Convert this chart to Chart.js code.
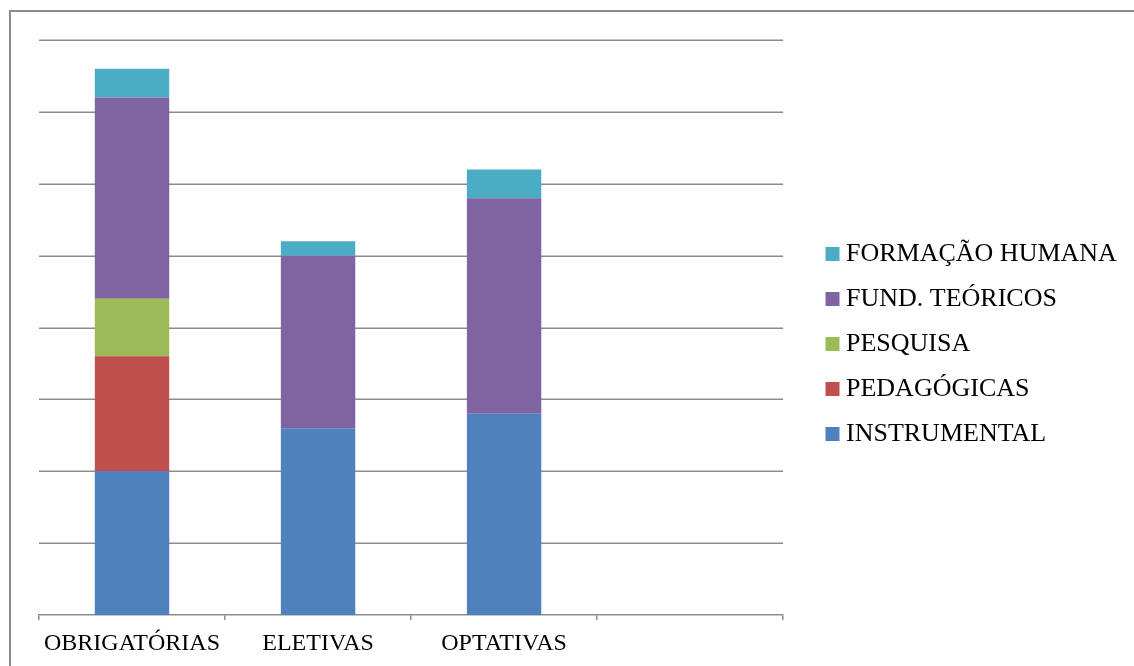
<!DOCTYPE html>
<html>
<head>
<meta charset="utf-8">
<script src="https://cdn.jsdelivr.net/npm/chart.js@4"></script>
<style>
  html, body { margin: 0; padding: 0; background: #fff; overflow: hidden; }
  #frame { position: absolute; left: 9px; top: 10px; width: 2000px; height: 2000px; border: 2px solid #8c8c8c; box-sizing: border-box; }
  #wrap { position: absolute; left: 0; top: 0; width: 1134px; height: 666px; }
</style>
</head>
<body>
<div id="frame"></div>
<div id="wrap"><canvas id="chart" width="1134" height="666"></canvas></div>
<script>
"use strict";
// categorias (a quarta fica vazia, como no original)
const categorias = ["OBRIGATÓRIAS", "ELETIVAS", "OPTATIVAS", ""];
const instrumental = [10, 13, 14, null];
const pedagogicas = [8, 0, 0, null];
const pesquisa = [4, 0, 0, null];
const fundTeoricos = [14, 12, 15, null];
const formacaoHumana = [2, 1, 2, null];
const yTicks = [0, 5, 10, 15, 20, 25, 30, 35, 40];

const FONTE = "'Liberation Serif', 'Times New Roman', serif";
const CINZA = "#8c8c8c";

function serie(label, data, cor) {
    return { label, data, backgroundColor: cor, borderColor: cor, borderWidth: 0, pointStyle: "rect" };
}

// linhas de grade horizontais (o eixo y fica oculto para a legenda caber)
const gradeY = {
    id: "gradeY",
    beforeDatasetsDraw(chart) {
        const { ctx, chartArea, scales } = chart;
        ctx.save();
        ctx.strokeStyle = CINZA;
        ctx.lineWidth = 1.5;
        yTicks.forEach(v => {
            if (v === 0) return;
            const y = Math.round(scales.y.getPixelForValue(v)) + 0.25;
            ctx.beginPath();
            ctx.moveTo(chartArea.left, y);
            ctx.lineTo(chartArea.right, y);
            ctx.stroke();
        });
        ctx.restore();
    },
};

// posiciona a legenda como no original
const legendaDesloc = {
    id: "legendaDesloc",
    afterLayout(chart) {
        const lg = chart.legend;
        if (!lg) return;
        const w = lg.right - lg.left;
        lg.left = 813;
        lg.right = 813 + w;
        lg.top = 35;
        lg.bottom = 653;
    },
};

const ctx = document.getElementById("chart").getContext("2d");
new Chart(ctx, {
    type: "bar",
    data: {
        labels: categorias,
        datasets: [
            serie("INSTRUMENTAL", instrumental, "#4F81BD"),
            serie("PEDAGÓGICAS", pedagogicas, "#C0504D"),
            serie("PESQUISA", pesquisa, "#9BBB59"),
            serie("FUND. TEÓRICOS", fundTeoricos, "#8064A2"),
            serie("FORMAÇÃO HUMANA", formacaoHumana, "#4BACC6"),
        ],
    },
    options: {
        responsive: false,
        animation: false,
        datasets: { bar: { barPercentage: 0.4, categoryPercentage: 1 } },
        layout: { padding: { left: 39, top: 40, right: 37, bottom: -2 } },
        scales: {
            x: {
                stacked: true,
                grid: { display: true, drawOnChartArea: false, drawTicks: true, tickLength: 5, color: CINZA, lineWidth: 1.5 },
                border: { display: true, color: CINZA, width: 1.5 },
                ticks: { color: "#000", padding: 12, maxRotation: 0, minRotation: 0, font: { family: FONTE, size: 24, lineHeight: 1 } },
            },
            y: {
                display: false,
                stacked: true,
                min: yTicks[0],
                max: yTicks[yTicks.length - 1],
            },
        },
        plugins: {
            legend: {
                position: "right",
                reverse: true,
                labels: {
                    color: "#000",
                    usePointStyle: true,
                    boxWidth: 1,
                    boxHeight: 14,
                    padding: 19,
                    font: { family: FONTE, size: 26 },
                },
            },
            tooltip: { enabled: false },
        },
    },
    plugins: [gradeY, legendaDesloc],
});
</script>
</body>
</html>
